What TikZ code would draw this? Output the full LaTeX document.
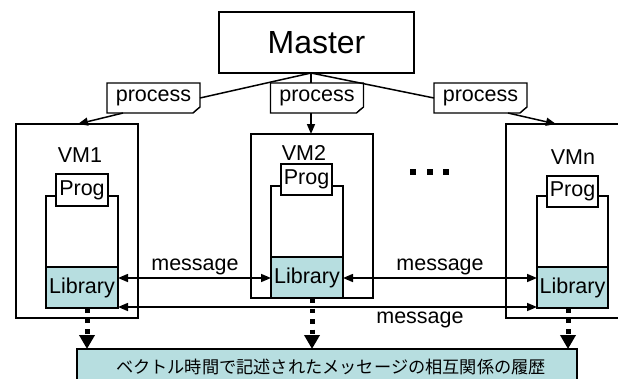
\documentclass[tikz,border=0pt]{standalone}
\usepackage{fontspec}
\setmainfont{Liberation Sans}
\newfontfamily\jpfont{Noto Sans CJK JP}
\usetikzlibrary{arrows.meta}
\definecolor{libfill}{RGB}{183,222,224}
\begin{document}
\begin{tikzpicture}[x=1pt,y=-1pt,
  box/.style={draw, line width=1.3pt, inner sep=0pt, outer sep=0pt, fill=white},
  txt/.style={font=\fontsize{21.5}{24}\selectfont},
  notebox/.style={inner sep=0pt, outer sep=0pt, minimum width=93pt, minimum height=30pt, txt},
  lbl/.style={inner sep=0pt, txt},
  arr/.style={line width=1.5pt, -{Triangle[length=10pt,width=8pt]}},
  darr/.style={line width=1.5pt, {Triangle[length=10pt,width=8pt]}-{Triangle[length=10pt,width=8pt]}},
  dotarr/.style={line width=5pt, dash pattern=on 4.5pt off 6pt, -{Triangle[length=14pt,width=15pt]}},
  dotsq/.style={fill=black, minimum size=6pt, inner sep=0pt}
]
\useasboundingbox (0,0) rectangle (618,378);
\clip (0,0) rectangle (618,378);

% Master
\node[box, minimum width=195pt, minimum height=61pt, font=\fontsize{32}{35}\selectfont] (master) at (316.5,42.5) {Master};
\coordinate (m) at ([xshift=-5.5pt]master.south);

% process notes
\foreach \n/\x in {p1/153.5, p2/317, p3/480.5}{
  \node[notebox] (\n) at (\x,98) {process};
  \draw[line width=1.3pt] (\n.north west) -- (\n.north east) -- ([yshift=6pt]\n.south east)
     -- ([xshift=-7pt]\n.south east) -- (\n.south west) -- cycle;
  \draw[line width=0.9pt] ([xshift=-7pt]\n.south east) -- ([xshift=-4pt,yshift=3pt]\n.south east) -- ([yshift=6pt]\n.south east);
}

% VM boxes
\node[box, minimum width=122pt, minimum height=194pt] (vm1) at (77,221) {};
\node[box, minimum width=122pt, minimum height=164pt] (vm2) at (312,216) {};
\node[box, minimum width=134pt, minimum height=194pt] (vmn) at (573,221) {};
\node[lbl] (vm1l) at (80,155) {VM1};
\node[lbl] (vm2l) at (304,153) {VM2};
\node[lbl] (vmnl) at (573,157) {VMn};

% inner containers
\node[box, minimum width=72pt, minimum height=112pt] (in1) at (82,252) {};
\node[box, minimum width=72pt, minimum height=112pt] (in2) at (307,242) {};
\node[box, minimum width=71pt, minimum height=112pt] (inn) at (572.5,252) {};

% libraries
\node[box, fill=libfill, minimum width=72pt, minimum height=41pt, txt] (lib1) at (82,287.5) {Library};
\node[box, fill=libfill, minimum width=72pt, minimum height=41pt, txt] (lib2) at (307,277.5) {Library};
\node[box, fill=libfill, minimum width=71pt, minimum height=41pt, txt] (libn) at (572.5,287.5) {Library};

% progs
\node[box, minimum width=52pt, minimum height=32pt, txt] (prog1) at (82,190) {Prog};
\node[box, minimum width=51pt, minimum height=31pt, txt] (prog2) at (306.5,179.5) {Prog};
\node[box, minimum width=51pt, minimum height=31pt, txt] (progn) at (572.5,191.5) {Prog};

% dots
\node[dotsq] (d1) at (413,172) {};
\node[dotsq] (d2) at (430,172) {};
\node[dotsq] (d3) at (446,172) {};

% bottom history box
\node[box, fill=libfill, minimum width=500pt, minimum height=36pt] (hist) at (327,367) {};
\node[inner sep=0pt, font=\jpfont\fontsize{17.2}{19}\selectfont] (histl) at (331,367) {ベクトル時間で記述されたメッセージの相互関係の履歴};

% master to notes
\draw[line width=1.5pt] (m) -- (p1.east);
\draw[line width=1.5pt] (m) -- ([xshift=-6pt]p2.north);
\draw[line width=1.5pt] (m) -- (p3.west);
% notes to VMs
\draw[arr] ([xshift=-30.5pt]p1.south) -- ([xshift=1pt]vm1.north);
\draw[arr] ([xshift=-6pt]p2.south) -- ([xshift=-6pt]p2.south |- vm2.north);
\draw[arr] ([xshift=27.5pt]p3.south) -- ([xshift=-17pt]vmn.north);

% messages
\draw[darr] ([yshift=9.5pt]lib1.east) -- ([yshift=9.5pt]lib1.east -| lib2.west);
\draw[darr] ([yshift=-0.5pt]lib2.east) -- ([yshift=-0.5pt]lib2.east -| libn.west);
\draw[darr] ([yshift=1pt]lib1.south east) -- ([yshift=1pt]lib1.south east -| libn.west);
\node[lbl] (msg1) at (195,267) {message};
\node[lbl] (msg2) at (440,267) {message};
\node[lbl] (msg3) at (420,320) {message};

% dotted arrows to history
\draw[dotarr] ([xshift=5pt]lib1.south) -- ([xshift=5pt]lib1.south |- hist.north);
\draw[dotarr] ([xshift=5pt]lib2.south) -- ([xshift=5pt]lib2.south |- hist.north);
\draw[dotarr] ([xshift=-4.5pt]libn.south) -- ([xshift=-4.5pt]libn.south |- hist.north);
\end{tikzpicture}
\end{document}
